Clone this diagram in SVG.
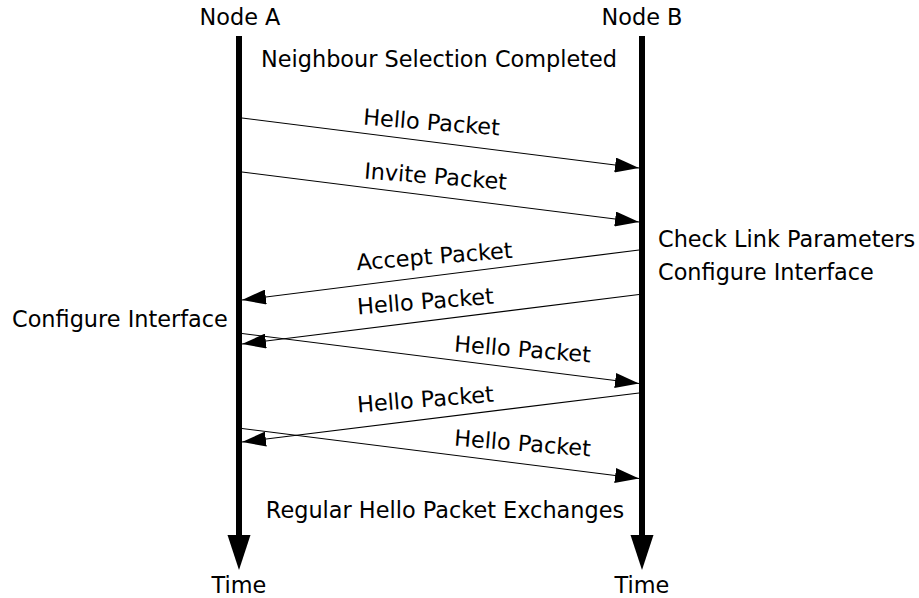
<svg xmlns="http://www.w3.org/2000/svg" width="919" height="598" viewBox="0 0 919 598">
  <style>
    text { font-family: "DejaVu Sans", "Liberation Sans", sans-serif; font-size: 22.4px; fill: #000; }
    .mid { text-anchor: middle; }
    .msg { stroke: #000; stroke-width: 1.2; fill: none; marker-end: url(#head); }
    .life { stroke: #000; stroke-width: 6; }
  </style>
  <defs>
    <marker id="head" markerUnits="userSpaceOnUse" markerWidth="24" markerHeight="15" refX="24" refY="7.5" orient="auto">
      <path d="M0,0 L24,7.5 L0,15 Z" fill="#000"/>
    </marker>
  </defs>

  <!-- lifelines -->
  <g id="nodeA">
    <text class="mid" x="240" y="25">Node A</text>
    <line class="life" x1="239" y1="36" x2="239" y2="537"/>
    <polygon points="227.5,535 250.5,535 239,570" fill="#000"/>
    <text class="mid" x="239" y="593">Time</text>
  </g>
  <g id="nodeB">
    <text class="mid" x="642" y="25">Node B</text>
    <line class="life" x1="642" y1="36" x2="642" y2="537"/>
    <polygon points="630.5,535 653.5,535 642,570" fill="#000"/>
    <text class="mid" x="642" y="593">Time</text>
  </g>

  <!-- annotations -->
  <g id="notes">
    <text class="mid" x="439" y="67">Neighbour Selection Completed</text>
    <text x="658" y="247">Check Link Parameters</text>
    <text x="658" y="280">Configure Interface</text>
    <text x="12" y="327">Configure Interface</text>
    <text class="mid" x="445" y="518">Regular Hello Packet Exchanges</text>
  </g>

  <!-- messages -->
  <g id="connectors">
    <line class="msg" x1="242" y1="118" x2="639" y2="168"/>
    <line class="msg" x1="242" y1="172" x2="639" y2="222"/>
    <line class="msg" x1="639" y1="250" x2="242" y2="300"/>
    <line class="msg" x1="639" y1="294.5" x2="242" y2="344"/>
    <line class="msg" x1="242" y1="333.5" x2="639" y2="383.5"/>
    <line class="msg" x1="639" y1="393" x2="242" y2="442"/>
    <line class="msg" x1="242" y1="428.5" x2="639" y2="478.5"/>
  </g>

  <g id="labels">
    <text class="mid" transform="translate(431,130) rotate(4.5)">Hello Packet</text>
    <text class="mid" transform="translate(435,184) rotate(4.5)">Invite Packet</text>
    <text class="mid" transform="translate(435,264) rotate(-4.5)">Accept Packet</text>
    <text class="mid" transform="translate(426,309) rotate(-4.5)">Hello Packet</text>
    <text class="mid" transform="translate(522,357) rotate(4.5)">Hello Packet</text>
    <text class="mid" transform="translate(426,407) rotate(-4.5)">Hello Packet</text>
    <text class="mid" transform="translate(522,451) rotate(4.5)">Hello Packet</text>
  </g>
</svg>
